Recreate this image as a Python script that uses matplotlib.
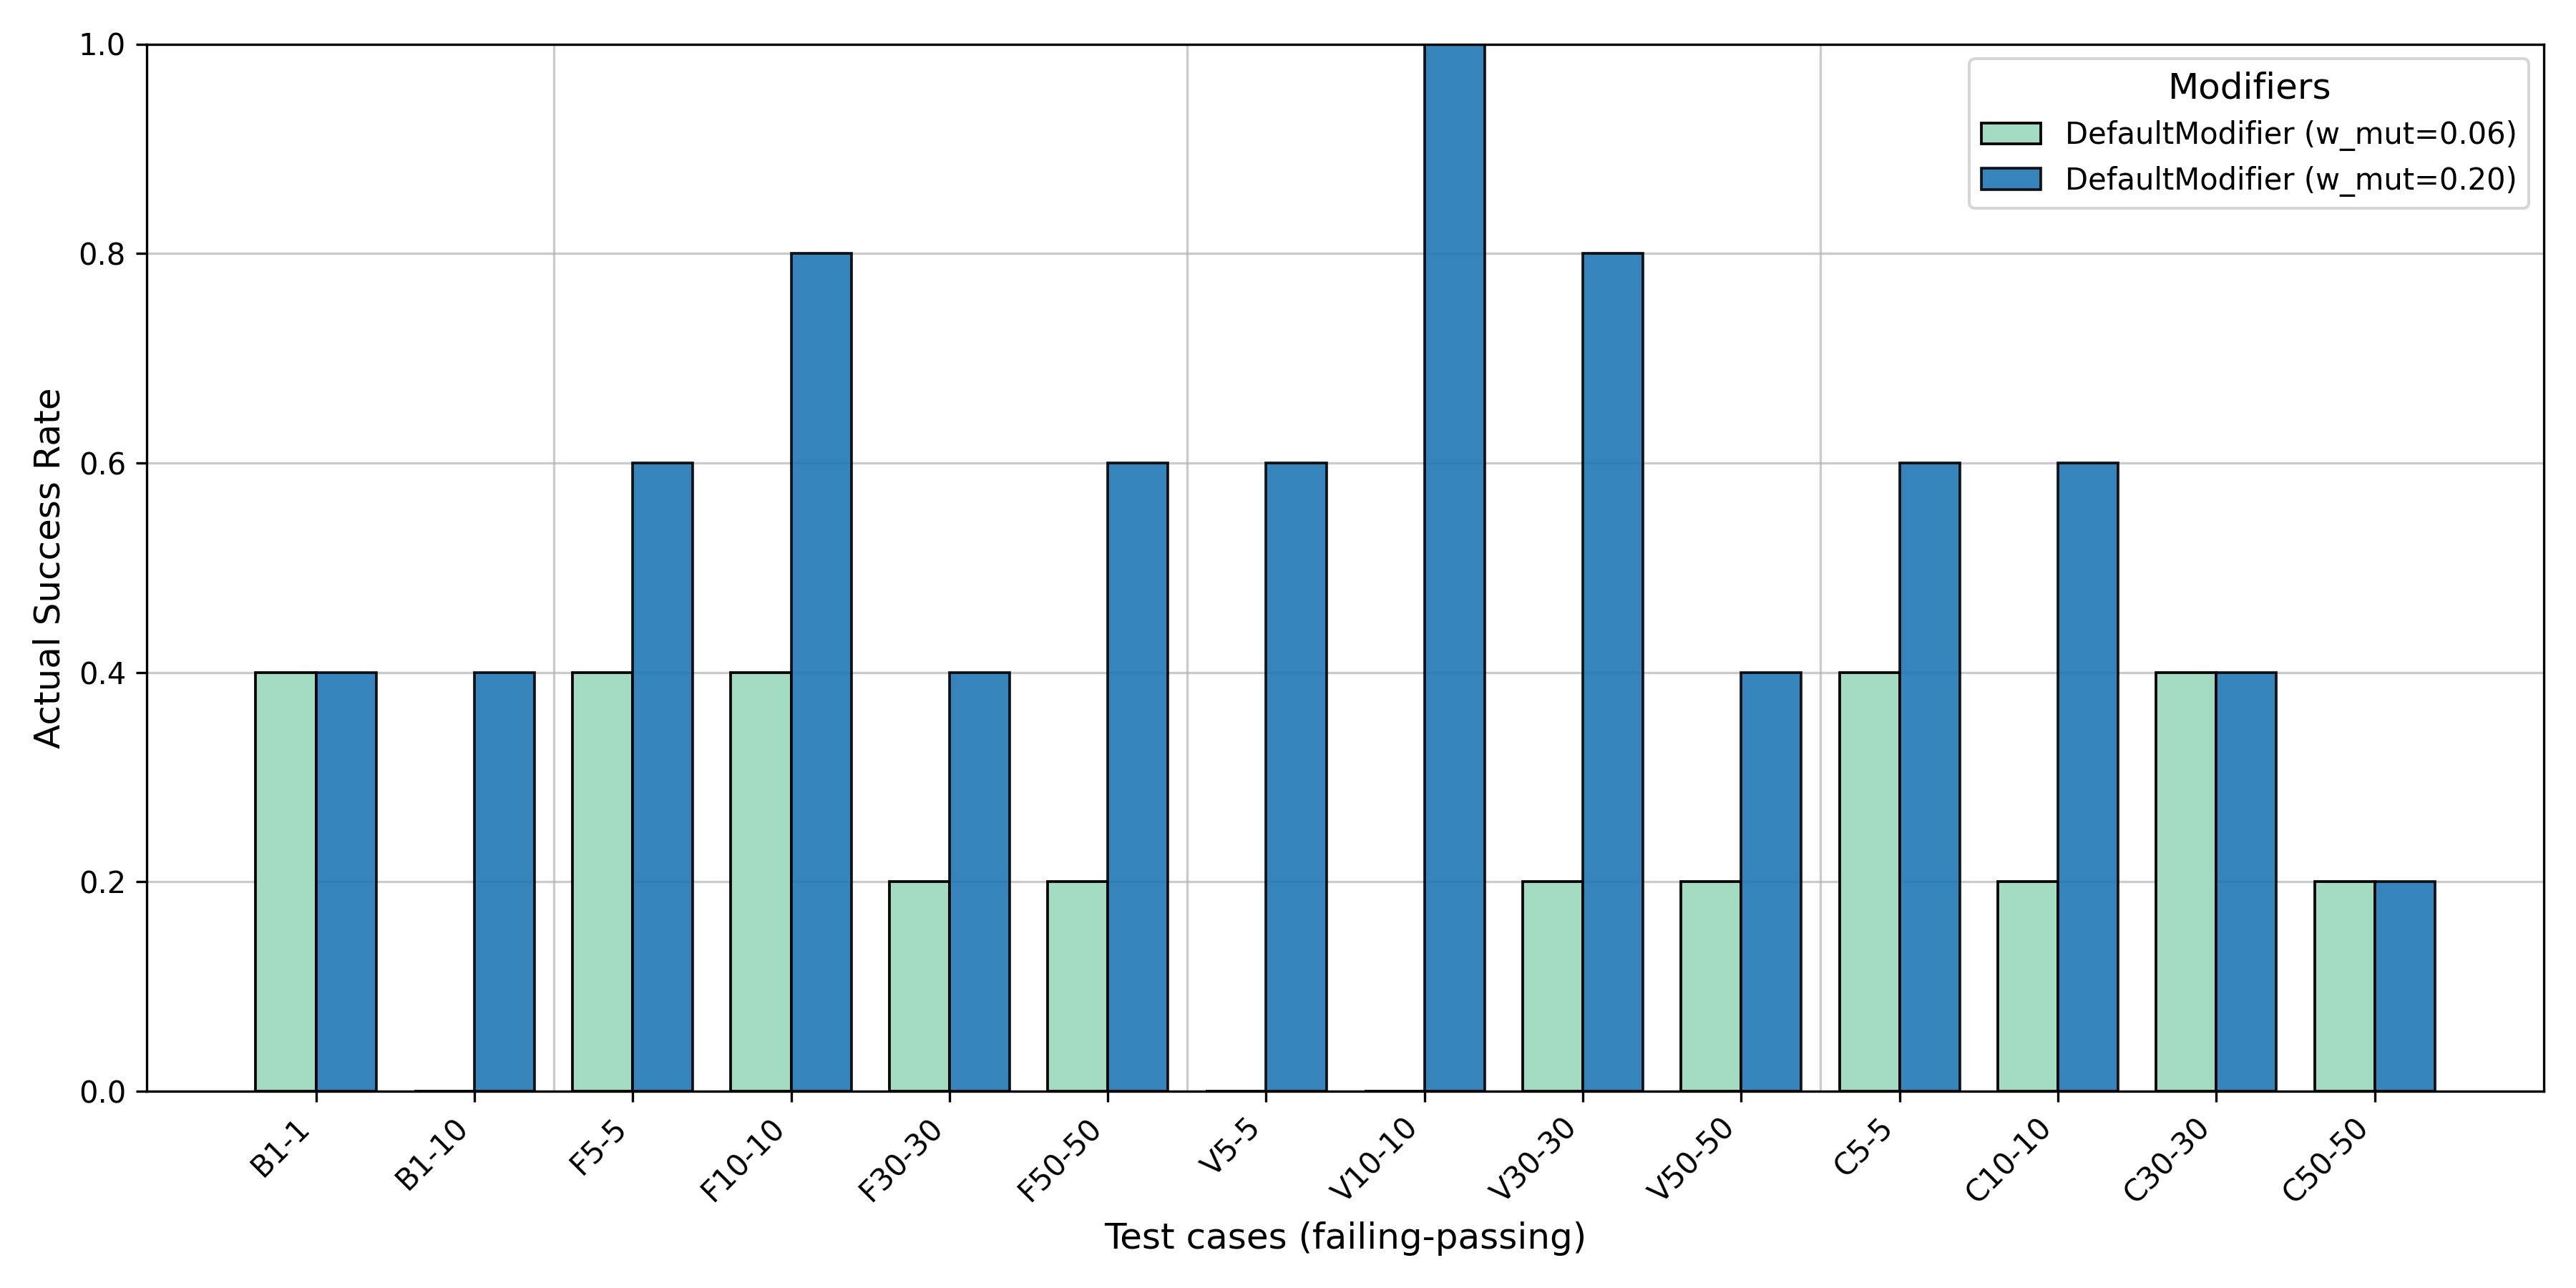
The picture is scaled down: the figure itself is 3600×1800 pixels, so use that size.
import numpy as np
import matplotlib
matplotlib.use("Agg")
import matplotlib.pyplot as plt

# test cases (failing-passing) and actual success rates per modifier
cases = ['B1-1', 'B1-10', 'F5-5', 'F10-10', 'F30-30', 'F50-50',
         'V5-5', 'V10-10', 'V30-30', 'V50-50',
         'C5-5', 'C10-10', 'C30-30', 'C50-50']
rate_w006 = [0.4, 0.0, 0.4, 0.4, 0.2, 0.2, 0.0, 0.0, 0.2, 0.2, 0.4, 0.2, 0.4, 0.2]
rate_w020 = [0.4, 0.4, 0.6, 0.8, 0.4, 0.6, 0.6, 1.0, 0.8, 0.4, 0.6, 0.6, 0.4, 0.2]
labels = ['DefaultModifier (w_mut=0.06)', 'DefaultModifier (w_mut=0.20)']
# positions between benchmark families
group_breaks = [1.5, 5.5, 9.5]

fig, ax = plt.subplots(figsize=(12, 6), dpi=300)

x = np.arange(len(cases))
width = 0.38

ax.bar(x - width / 2, rate_w006, width, label=labels[0],
       color='#a3dac2', edgecolor='black', linewidth=0.9)
ax.bar(x + width / 2, rate_w020, width, label=labels[1],
       color='#1f77b4', alpha=0.9, edgecolor='black', linewidth=0.9)

# separators between families
for b in group_breaks:
    ax.axvline(b, color='#b0b0b0', alpha=0.65, linewidth=0.8, zorder=0)

ax.set_axisbelow(True)
ax.grid(axis='y', color='#b0b0b0', alpha=0.65, linewidth=0.8)

ax.set_ylim(0, 1.0)
ax.set_xticks(x)
ax.set_xticklabels(cases, rotation=45, ha='right', fontsize=10)
ax.tick_params(axis='y', labelsize=10)
ax.set_xlabel('Test cases (failing-passing)', fontsize=12)
ax.set_ylabel('Actual Success Rate', fontsize=12)

ax.legend(title='Modifiers', loc='upper right', fontsize=10, title_fontsize=12)

plt.tight_layout()
plt.savefig('out.png', dpi=300)
plt.close()
